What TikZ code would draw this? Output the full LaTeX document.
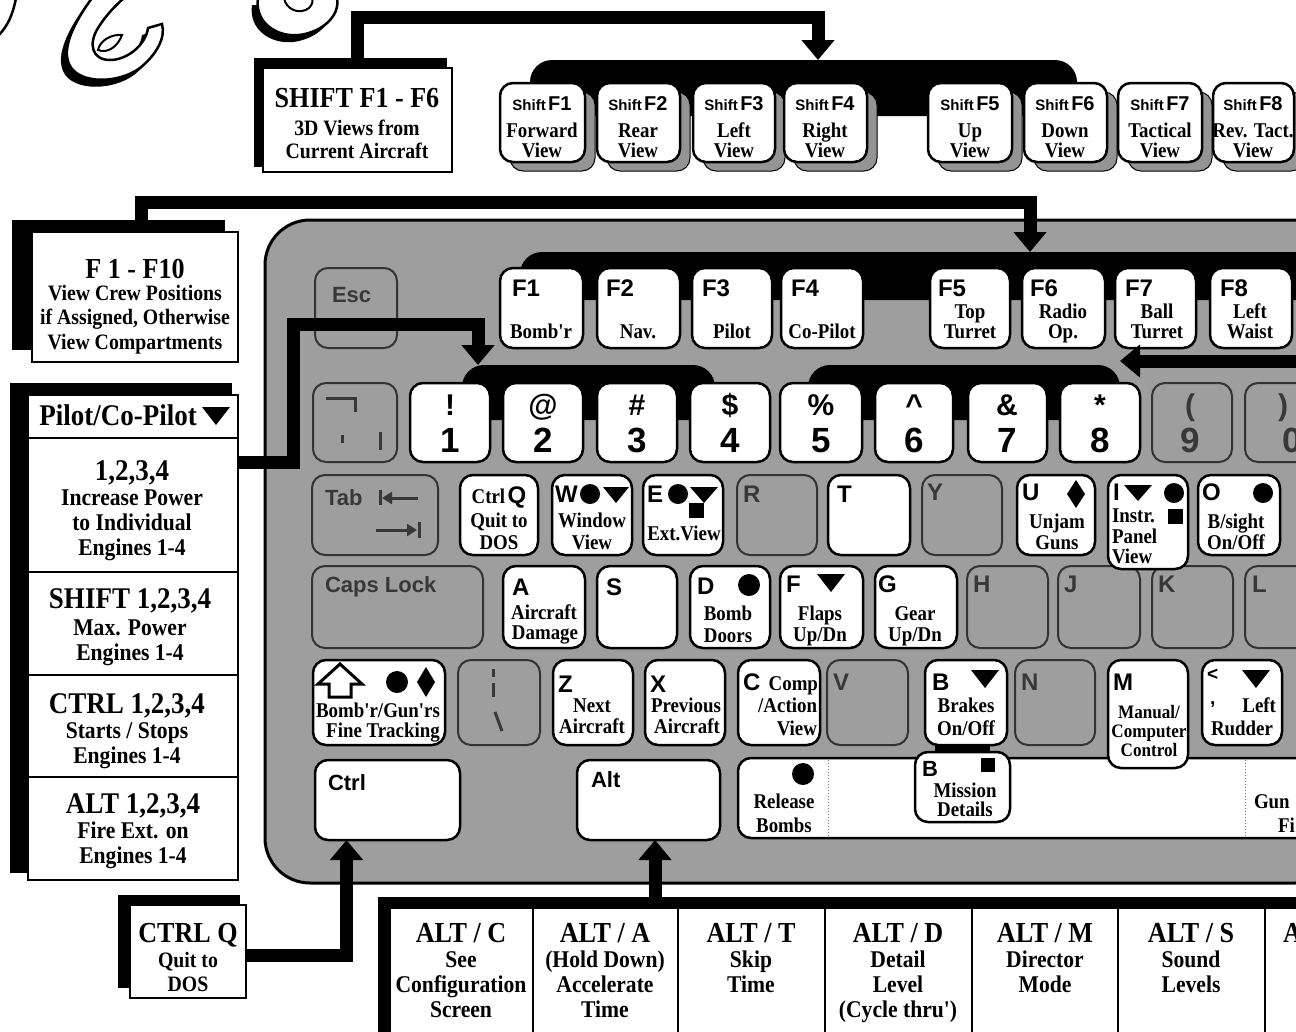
\documentclass[tikz,border=0pt]{standalone}
\usepackage{fontspec}
\setmainfont{Liberation Serif}
\newfontfamily\srf[FakeStretch=0.9]{Liberation Serif}
\newfontfamily\ssf{Liberation Sans}
\usetikzlibrary{arrows.meta}
\definecolor{kbd}{gray}{0.62}
\definecolor{gtx}{gray}{0.22}
\definecolor{shd}{gray}{0.58}
\newcommand\ftit{\srf\bfseries\fontsize{29}{29}\selectfont}
\newcommand\fltit{\srf\bfseries\fontsize{30}{30}\selectfont}
\newcommand\fsub{\srf\bfseries\fontsize{22}{22}\selectfont}
\newcommand\flsub{\srf\bfseries\fontsize{24}{24}\selectfont}
\newcommand\fkey{\srf\bfseries\fontsize{21}{21}\selectfont}
\newcommand\fksm{\srf\bfseries\fontsize{19}{19}\selectfont}
\newcommand\flet{\ssf\bfseries\fontsize{24}{24}\selectfont}
\newcommand\fgl{\ssf\bfseries\fontsize{22}{22}\selectfont}
\newcommand\fsml{\ssf\bfseries\fontsize{19}{19}\selectfont}
\newcommand\fdig{\ssf\bfseries\fontsize{35}{35}\selectfont}
\newcommand\fsym{\ssf\bfseries\fontsize{30}{30}\selectfont}
\newcommand\fshf{\ssf\bfseries\fontsize{15}{15}\selectfont}
\newcommand\ffn{\ssf\bfseries\fontsize{20}{20}\selectfont}
\newcounter{tn}
\newcommand\tx[3][]{\stepcounter{tn}\node[txt,#1] (t\arabic{tn}) at (#2) {#3};}
\newcommand\kbox[6]{\node[#1, minimum width={(#5)-(#3)}, minimum height={(#6)-(#4)}] (#2) at ({((#3)+(#5))/2},{((#4)+(#6))/2}) {};}
\newcommand\mydot[3]{\fill (#1,#2) circle[radius=#3];}
\newcommand\mytri[4]{\fill (#1-#3,#2-#4) -- (#1+#3,#2-#4) -- (#1,#2+#4) -- cycle;}
\newcommand\mydia[4]{\fill (#1,#2-#4) -- (#1+#3,#2) -- (#1,#2+#4) -- (#1-#3,#2) -- cycle;}
\newcommand\mysq[3]{\fill (#1-#3,#2-#3) rectangle (#1+#3,#2+#3);}
\newcommand\shA[1]{\path[#1] (-2,-2) -- (16,-2) .. controls (13,14) and (8,26) .. (-2,36) -- cycle;}
\newcommand\shG[1]{\path[#1] (92,-2) .. controls (76,20) and (60,48) .. (70,66) .. controls (80,84) and (118,84) .. (140,68) .. controls (156,55) and (166,38) .. (162,24) -- (148,28) .. controls (146,44) and (128,60) .. (110,60) .. controls (92,60) and (88,44) .. (98,28) .. controls (106,15) and (116,5) .. (124,-2) -- cycle;}
\newcommand\shGi[1]{\path[#1] (98,50) .. controls (100,40) and (112,34) .. (122,35) .. controls (118,46) and (108,54) .. (98,50) -- cycle;}
\newcommand\shO[1]{\path[#1] (258,-2) .. controls (254,24) and (280,40) .. (305,34) .. controls (326,29) and (340,14) .. (337,-2) -- cycle;}
\newcommand\shOi[1]{\path[#1] (284,-2) .. controls (286,10) and (300,15) .. (309,8) .. controls (313,4) and (313,0) .. (312,-2) -- cycle;}
\tikzset{
 txt/.style={anchor=base, inner sep=0pt, outer sep=0pt},
 wkey/.style={draw=black, line width=2.5pt, fill=white, rounded corners=13pt, inner sep=0pt, outer sep=0pt},
 gkey/.style={draw=black!80, line width=2pt, fill=kbd, rounded corners=13pt, inner sep=0pt, outer sep=0pt},
 skey/.style={draw=black, line width=1pt, fill=shd, rounded corners=13pt, inner sep=0pt, outer sep=0pt},
 wbox/.style={draw=black, line width=2.5pt, fill=white, inner sep=0pt, outer sep=0pt},
 band/.style={fill=black, rounded corners=22pt, inner sep=0pt, outer sep=0pt},
 body/.style={draw=black, line width=3pt, fill=kbd, rounded corners=45pt, inner sep=0pt, outer sep=0pt},
 conn/.style={line width=13pt, draw=black, -{Triangle[width=32pt,length=20pt]}},
 glyphln/.style={draw=gtx, line width=3pt},
 gl/.style={text=gtx},
}
\begin{document}
\begin{tikzpicture}[x=1pt,y=-1pt]
\useasboundingbox (0,0) rectangle (1296,1031);
\clip (0,0) rectangle (1296,1031);
\fill[white] (0,0) rectangle (1296,1031);
% title script fragments
\shA{fill=black,shift={(-5,6)}} \shA{fill=white,draw=black,line width=2.5pt}
\shG{fill=black,shift={(-6,7)}} \shG{fill=white,draw=black,line width=2.5pt}
\shGi{fill=white,draw=black,line width=2pt}
\shO{fill=black,shift={(-6,7)}} \shO{fill=white,draw=black,line width=2.5pt}
\shOi{fill=white,draw=black,line width=2pt}
% ---------- Shift F group
\kbox{band}{sband}{530}{60}{1077}{116}
\fill[black] (254,58) rectangle (447,167);
\kbox{wbox}{sb}{263}{68}{452}{172}
\tx{357,107}{\ftit SHIFT F1 - F6}
\tx{357,135}{\fsub 3D Views from}
\tx{357,158}{\fsub Current Aircraft}
\coordinate (k0) at (818,17);
\draw[conn] (sb.north) |- (k0) -- (k0 |- sband.north);
\foreach \nm/\a/\b in {sfa/500/585, sfb/597/680, sfc/693/775, sfd/784/867, sfe/928/1012, sff/1024/1107, sfg/1118/1202, sfh/1213/1294}{
  \kbox{skey}{\nm s}{\a+10}{92}{\b+10}{171}
  \kbox{wkey}{\nm}{\a}{83}{\b}{162}
}
\foreach \c/\f/\la/\lb in {542/F1/Forward/View, 638/F2/Rear/View, 734/F3/Left/View, 825/F4/Right/View, 970/F5/Up/View, 1065/F6/Down/View, 1160/F7/Tactical/View, 1253/F8/Rev. Tact./View}{
  \tx{\c,110}{{\fshf Shift} {\ffn \f}}
  \tx{\c,137}{\fkey \la}
  \tx{\c,157}{\fkey \lb}
}
% ---------- F1-F10 box
\fill[black] (12,220) rectangle (225,350);
\kbox{wbox}{fb}{32}{232}{238}{362}
\tx{135,278}{\ftit F 1 - F10}
\tx{135,300}{\fsub View Crew Positions}
\tx{135,324}{\fsub if Assigned, Otherwise}
\tx{135,349}{\fsub View Compartments}
% ---------- keyboard body
\kbox{body}{kb}{265}{220}{1340}{883}
% F row
\kbox{band}{fband}{520}{252}{1330}{300}
\coordinate (k1) at (1030,202);
\draw[conn] ([xshift=6pt]fb.north) |- (k1) -- (k1 |- fband.north);
\kbox{gkey}{esc}{315}{268}{397}{348}
\tx[gl,anchor=base west]{332,302}{\fgl Esc}
\foreach \nm/\a/\b in {fa/500/583, fbk/597/680, fc/692/772, fd/781/863, fe/930/1010, ff/1022/1105, fg/1115/1196, fh/1210/1292}{
  \kbox{wkey}{\nm}{\a}{268}{\b}{348}
}
\foreach \xl/\f in {512/F1, 606/F2, 702/F3, 791/F4, 938/F5, 1030/F6, 1125/F7, 1220/F8}{
  \tx[anchor=base west]{\xl,296}{\flet \f}
}
\tx{541,338}{\fkey Bomb'r}
\tx{638,338}{\fkey Nav.}
\tx{732,338}{\fkey Pilot}
\tx{822,338}{\fkey Co-Pilot}
\tx{970,318}{\fkey Top}
\tx{970,338}{\fkey Turret}
\tx{1063,318}{\fkey Radio}
\tx{1063,338}{\fkey Op.}
\tx{1157,318}{\fkey Ball}
\tx{1157,338}{\fkey Turret}
\tx{1250,318}{\fkey Left}
\tx{1250,338}{\fkey Waist}
% number row
\kbox{band}{nbanda}{462}{365}{715}{420}
\kbox{band}{nbandb}{808}{365}{1120}{420}
\kbox{gkey}{kgr}{313}{383}{397}{462}
\draw[glyphln] (326,398) -- (355,398) -- (355,412);
\draw[glyphln] (342,435) -- (342,443);
\draw[glyphln] (380,432) -- (380,450);
\foreach \nm/\a/\b in {na/410/490, nb/503/583, nc/597/677, nd/690/770, ne/780/862, nf/875/953, ng/968/1047, nh/1060/1140}{
  \kbox{wkey}{\nm}{\a}{383}{\b}{462}
}
\kbox{gkey}{ni}{1152}{383}{1232}{462}
\kbox{gkey}{nj}{1245}{383}{1330}{462}
\tx{450,415}{\fsym !}\tx{450,452}{\fdig 1}
\tx{543,415}{\fsym @}\tx{543,452}{\fdig 2}
\tx{637,415}{\fsym \#}\tx{637,452}{\fdig 3}
\tx{730,415}{\fsym \$}\tx{730,452}{\fdig 4}
\tx{821,415}{\fsym \%}\tx{821,452}{\fdig 5}
\tx{914,415}{\fsym \textasciicircum}\tx{914,452}{\fdig 6}
\tx{1007,415}{\fsym \&}\tx{1007,452}{\fdig 7}
\tx{1100,415}{\fsym *}\tx{1100,452}{\fdig 8}
\tx[gl]{1190,415}{\fsym (}\tx[gl]{1190,452}{\fdig 9}
\tx[gl]{1283,415}{\fsym )}\tx[gl]{1292,452}{\fdig 0}
\kbox{wbox}{pl}{28}{395}{238}{880}
\coordinate (k2a) at (0,462);
\coordinate (k2) at (293,324);
\coordinate (k3) at (478,324);
\coordinate (k5) at (1310,361);
% ---------- bottom row (drawn first so upper keys overlap it)
\kbox{wkey}{ctrl}{315}{760}{460}{840}
\tx[anchor=base west]{328,790}{\fgl Ctrl}
\kbox{wkey}{alt}{577}{760}{720}{840}
\tx[anchor=base west]{591,787}{\fgl Alt}
\kbox{wkey}{space}{738}{758}{1330}{838}
\draw[gray, line width=1pt, dotted] (828,760) -- (828,836);
\draw[gray, line width=1pt, dotted] (1245,760) -- (1245,836);
\mydot{803}{774}{11}
\tx{784,808}{\fkey Release}
\tx{784,832}{\fkey Bombs}
\tx[anchor=base west]{1254,808}{\fkey Gun}
\tx[anchor=base west]{1278,832}{\fkey Fi}
\fill[black] (935,742) rectangle (990,755);
\kbox{wkey}{miss}{915}{752}{1010}{822}
\tx[anchor=base west]{922,776}{\fgl B}
\mysq{988}{765}{7}
\tx{965,797}{\fkey Mission}
\tx{965,816}{\fkey Details}
% ---------- ZXCV row
\kbox{wkey}{kshift}{313}{660}{445}{745}
\draw[line width=3pt, fill=white, line join=miter] (340,664) -- (362,684) -- (351,684) -- (351,697) -- (329,697) -- (329,684) -- (318,684) -- cycle;
\mydot{397}{682}{11} \mydia{426}{682}{9}{15}
\tx{378,717}{\fkey Bomb'r/Gun'rs}
\tx{383,737}{\fkey Fine Tracking}
\kbox{gkey}{kbs}{458}{660}{540}{745}
\draw[glyphln] (493,669) -- (493,677);
\draw[glyphln] (493,683) -- (493,697);
\draw[glyphln] (495,712) -- (502,731);
\kbox{wkey}{kz}{553}{660}{633}{745}
\kbox{wkey}{kx}{645}{660}{725}{745}
\kbox{wkey}{kc}{738}{660}{820}{745}
\kbox{gkey}{kv}{827}{660}{908}{745}
\kbox{wkey}{kb2}{925}{660}{1007}{745}
\kbox{gkey}{kn}{1015}{660}{1095}{745}
\kbox{wkey}{km}{1108}{660}{1188}{768}
\kbox{wkey}{klt}{1202}{660}{1282}{745}
\tx[anchor=base west]{558,692}{\flet Z}
\tx{592,712}{\fkey Next}
\tx{592,733}{\fkey Aircraft}
\tx[anchor=base west]{650,692}{\flet X}
\tx{686,712}{\fkey Previous}
\tx{687,733}{\fkey Aircraft}
\tx[anchor=base west]{743,690}{\flet C}
\tx[anchor=base east]{818,690}{\fkey Comp}
\tx[anchor=base east]{817,712}{\fkey /Action}
\tx[anchor=base east]{817,735}{\fkey View}
\tx[gl,anchor=base west]{833,690}{\flet V}
\tx[anchor=base west]{932,690}{\flet B}
\mytri{985}{679}{14}{9}
\tx{966,712}{\fkey Brakes}
\tx{966,735}{\fkey On/Off}
\tx[gl,anchor=base west]{1021,690}{\flet N}
\tx[anchor=base west]{1113,690}{\flet M}
\tx{1149,718}{\fksm Manual/}
\tx{1149,737}{\fksm Computer}
\tx{1149,756}{\fksm Control}
\tx[anchor=base west]{1207,680}{\fsml <}
\tx[anchor=base west]{1210,704}{\fsml ,}
\mytri{1256}{679}{14}{9}
\tx[anchor=base east]{1276,712}{\fkey Left}
\tx{1242,735}{\fkey Rudder}
% ---------- ASDF row
\kbox{gkey}{caps}{312}{566}{483}{648}
\tx[gl,anchor=base west]{325,592}{\fgl Caps Lock}
\kbox{wkey}{ka}{503}{566}{585}{648}
\kbox{wkey}{ks}{597}{566}{677}{648}
\kbox{wkey}{kd}{690}{566}{770}{648}
\kbox{wkey}{kf}{780}{566}{863}{648}
\kbox{wkey}{kg}{875}{566}{957}{648}
\kbox{gkey}{kh}{967}{566}{1048}{648}
\kbox{gkey}{kj}{1058}{566}{1140}{648}
\kbox{gkey}{kk}{1152}{566}{1233}{648}
\kbox{gkey}{kl}{1245}{566}{1330}{648}
\tx[anchor=base west]{512,595}{\flet A}
\tx{544,619}{\fkey Aircraft}
\tx{545,639}{\fkey Damage}
\tx[anchor=base west]{606,595}{\flet S}
\tx[anchor=base west]{697,594}{\flet D}
\mydot{749}{585}{11}
\tx{728,620}{\fkey Bomb}
\tx{728,642}{\fkey Doors}
\tx[anchor=base west]{786,592}{\flet F}
\mytri{831}{583}{14}{9}
\tx{820,620}{\fkey Flaps}
\tx{820,641}{\fkey Up/Dn}
\tx[anchor=base west]{878,592}{\flet G}
\tx{915,620}{\fkey Gear}
\tx{915,641}{\fkey Up/Dn}
\tx[gl,anchor=base west]{973,592}{\flet H}
\tx[gl,anchor=base west]{1064,592}{\flet J}
\tx[gl,anchor=base west]{1158,592}{\flet K}
\tx[gl,anchor=base west]{1252,592}{\flet L}
% ---------- QWERTY row
\kbox{gkey}{tab}{312}{475}{438}{555}
\tx[gl,anchor=base west]{325,505}{\fgl Tab}
\draw[glyphln] (380,490) -- (380,505);
\draw[glyphln,-{Triangle[width=12pt,length=10pt]}] (418,498) -- (382,498);
\draw[glyphln,-{Triangle[width=12pt,length=10pt]}] (376,530) -- (417,530);
\draw[glyphln] (419,522) -- (419,538);
\kbox{wkey}{kq}{460}{475}{538}{555}
\kbox{wkey}{kw}{552}{475}{632}{555}
\kbox{wkey}{ke}{643}{475}{723}{555}
\kbox{gkey}{kr}{737}{475}{817}{555}
\kbox{wkey}{kt}{828}{475}{910}{555}
\kbox{gkey}{ky}{922}{475}{1002}{555}
\kbox{wkey}{ku}{1017}{475}{1095}{555}
\kbox{wkey}{ki}{1108}{475}{1188}{569}
\kbox{wkey}{ko}{1198}{475}{1280}{555}
\tx{499,503}{{\fkey Ctrl} {\flet Q}}
\tx{499,527}{\fkey Quit to}
\tx{499,549}{\fkey DOS}
\tx[anchor=base west]{555,502}{\flet W}
\mydot{590}{494}{10} \mytri{616}{495}{13}{8}
\tx{592,527}{\fkey Window}
\tx{592,549}{\fkey View}
\tx[anchor=base west]{647,502}{\flet E}
\mydot{678}{494}{10} \mytri{704}{495}{14}{8} \mysq{696}{510}{7.5}
\tx{684,540}{\fkey Ext.View}
\tx[gl,anchor=base west]{743,502}{\flet R}
\tx[anchor=base west]{837,502}{\flet T}
\tx[gl,anchor=base west]{927,500}{\flet Y}
\tx[anchor=base west]{1022,500}{\flet U}
\mydia{1076}{494}{9}{14}
\tx{1057,528}{\fkey Unjam}
\tx{1057,549}{\fkey Guns}
\tx[anchor=base west]{1113,500}{\flet I}
\mytri{1138}{493}{14}{8} \mydot{1174}{493}{10} \mysq{1175}{516}{7.5}
\tx[anchor=base west]{1112,522}{\fkey Instr.}
\tx[anchor=base west]{1112,543}{\fkey Panel}
\tx[anchor=base west]{1112,563}{\fkey View}
\tx[anchor=base west]{1202,500}{\flet O}
\mydot{1263}{493}{10}
\tx{1236,528}{\fkey B/sight}
\tx{1236,549}{\fkey On/Off}
% connectors on keyboard
\draw[conn] (pl.east |- k2a) -| (k2) -- (k3) -- (k3 |- nbanda.north);
\draw[conn] (k5) -- (nbandb.east |- k5);
% ---------- Pilot list box
\fill[black] (10,383) rectangle (232,873);
\kbox{wbox}{pl}{28}{395}{238}{880}
\draw[line width=2.5pt] (28,438) -- (238,438);
\draw[line width=2.5pt] (28,572) -- (238,572);
\draw[line width=2.5pt] (28,675) -- (238,675);
\draw[line width=2.5pt] (28,777) -- (238,777);
\tx{118,425}{\fltit Pilot/Co-Pilot}
\mytri{216}{416}{14}{9}
\tx{132,480}{\fltit 1,2,3,4}
\tx{132,505}{\flsub Increase Power}
\tx{132,530}{\flsub to Individual}
\tx{132,555}{\flsub Engines 1-4}
\tx{130,608}{\fltit SHIFT 1,2,3,4}
\tx{130,635}{\flsub Max. Power}
\tx{130,660}{\flsub Engines 1-4}
\tx{127,713}{\fltit CTRL 1,2,3,4}
\tx{127,738}{\flsub Starts / Stops}
\tx{127,763}{\flsub Engines 1-4}
\tx{133,813}{\fltit ALT 1,2,3,4}
\tx{133,838}{\flsub Fire Ext. on}
\tx{133,863}{\flsub Engines 1-4}
% ---------- CTRL Q box
\fill[black] (118,895) rectangle (240,988);
\kbox{wbox}{cq}{130}{905}{246}{998}
\tx{188,942}{\ftit CTRL Q}
\tx{188,967}{\fsub Quit to}
\tx{188,991}{\fsub DOS}
\coordinate (k6) at (0,955);
\draw[conn] (cq.east |- k6) -| ([xshift=-41pt]ctrl.south);
% ---------- ALT table
\fill[black] (378,897) rectangle (1310,1045);
\kbox{wbox}{tbl}{390}{908}{1310}{1045}
\foreach \xx in {533,678,825,972,1118,1265}{\draw[line width=2pt] (\xx,908) -- (\xx,1040);}
\coordinate (k7) at (655,897);
\draw[conn] (k7) -- (k7 |- alt.south);
\tx{461,942}{\ftit ALT / C}
\tx{461,967}{\flsub See}
\tx{461,992}{\flsub Configuration}
\tx{461,1017}{\flsub Screen}
\tx{605,942}{\ftit ALT / A}
\tx{605,967}{\flsub (Hold Down)}
\tx{605,992}{\flsub Accelerate}
\tx{605,1017}{\flsub Time}
\tx{751,942}{\ftit ALT / T}
\tx{751,967}{\flsub Skip}
\tx{751,992}{\flsub Time}
\tx{898,942}{\ftit ALT / D}
\tx{898,967}{\flsub Detail}
\tx{898,992}{\flsub Level}
\tx{898,1017}{\flsub (Cycle thru')}
\tx{1045,942}{\ftit ALT / M}
\tx{1045,967}{\flsub Director}
\tx{1045,992}{\flsub Mode}
\tx{1191,942}{\ftit ALT / S}
\tx{1191,967}{\flsub Sound}
\tx{1191,992}{\flsub Levels}
\tx[anchor=base west]{1283,942}{\ftit ALT}
\end{tikzpicture}
\end{document}
